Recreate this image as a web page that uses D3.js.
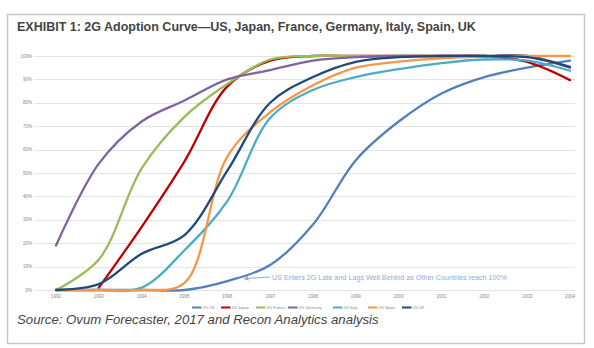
<!DOCTYPE html>
<html><head><meta charset="utf-8">
<script src="https://cdn.jsdelivr.net/npm/d3@7"></script>
<style>body{margin:0;background:#fff}svg{display:block}</style>
</head><body>
<svg id="c" width="594" height="348"></svg>
<script>
const years = [1992,1993,1994,1995,1996,1997,1998,1999,2000,2001,2002,2003,2004];
const seriesNames = ["2G US","2G Japan","2G France","2G Germany","2G Italy","2G Spain","2G UK"];
const us      = [0,0,0,0,3.8,10.7,28,55.5,72,84,91,95,98];
const japan   = [null,1,27,55,87,98,100,100,100,100,100,97.5,89.7];
const france  = [0,13,52,74,88,98.5,100,100,100,100,100,100,95];
const germany = [19,54,72,81,90,94,98,99.5,100,100,100,100,95];
const italy   = [0,0,1,17,38,73.5,85.5,91,94.4,97,98.5,98,93.7];
const spain   = [0,0,0,3,57,76,87.5,95,97.6,99,99.7,100,100];
const uk      = [0,2.5,15.5,23.5,51,80,91,97.5,99.5,100,100,99.5,95.4];
const yTicks = [0,10,20,30,40,50,60,70,80,90,100];
const colors = ["#4f81bd","#c00000","#9bbb59","#8064a2","#4bacc6","#f79646","#1f497d"];
const title = "EXHIBIT 1: 2G Adoption Curve\u2014US, Japan, France, Germany, Italy, Spain, UK";
const source = "Source: Ovum Forecaster, 2017 and Recon Analytics analysis";
const note = "US Enters 2G Late and Lags Well Behind as Other Countries reach 100%";

const allSeries = [us,japan,france,germany,italy,spain,uk];
const svg = d3.select("#c");

svg.append("rect").attr("x",7.5).attr("y",14.5).attr("width",577).attr("height",329)
  .attr("fill","#fff").attr("stroke","#c8c8c8").attr("stroke-width",1.5);

svg.append("text").attr("x",17).attr("y",31).text(title)
  .attr("font-family","Liberation Sans, Arial, sans-serif").attr("font-weight","bold")
  .attr("font-size",12.5).attr("fill","#444");

const x = d3.scaleLinear().domain([1992,2004]).range([56,570]);
const y = d3.scaleLinear().domain([0,100]).range([290,56]);

const g = svg.append("g");
g.selectAll("line.grid").data(yTicks).join("line")
  .attr("x1",34).attr("x2",575)
  .attr("y1",d=>Math.round(y(d))+0.5).attr("y2",d=>Math.round(y(d))+0.5)
  .attr("stroke","#e4e4e4").attr("stroke-width",1);

g.selectAll("text.yl").data(yTicks).join("text")
  .attr("x",32).attr("y",d=>y(d)+1.5).attr("text-anchor","end")
  .attr("font-family","Liberation Sans, Arial, sans-serif").attr("font-size",4.5)
  .attr("fill","#888").text(d=>d+"%");

g.selectAll("text.xl").data(years).join("text")
  .attr("x",d=>x(d)).attr("y",298).attr("text-anchor","middle")
  .attr("font-family","Liberation Sans, Arial, sans-serif").attr("font-size",4.5)
  .attr("fill","#888").text(d=>d);

const line = d3.line().defined(d=>d[1]!=null)
  .x(d=>x(d[0])).y(d=>y(d[1])).curve(d3.curveCatmullRom.alpha(0.5));

allSeries.forEach((s,i)=>{
  g.append("path").datum(years.map((yr,j)=>[yr,s[j]]))
    .attr("d",line).attr("fill","none").attr("stroke",colors[i])
    .attr("stroke-width",2.3).attr("stroke-linejoin","round").attr("stroke-linecap","round");
});

// annotation
const noteColor = "#8faadc";
svg.append("defs").append("marker").attr("id","ah").attr("viewBox","0 0 10 10")
  .attr("refX",5).attr("refY",5).attr("markerWidth",5).attr("markerHeight",5)
  .attr("orient","auto-start-reverse")
  .append("path").attr("d","M0,0 L10,5 L0,10 z").attr("fill",noteColor);
svg.append("line").attr("x1",270).attr("y1",277).attr("x2",246).attr("y2",278.5)
  .attr("stroke",noteColor).attr("stroke-width",1).attr("marker-end","url(#ah)");
svg.append("text").attr("x",272).attr("y",279.5).text(note)
  .attr("font-family","Liberation Sans, Arial, sans-serif").attr("font-size",6.6)
  .attr("textLength",235).attr("lengthAdjust","spacingAndGlyphs")
  .attr("fill",noteColor);

// legend
const legendX = [192,221,256,288,333,368,402];
const lg = svg.append("g");
seriesNames.forEach((n,i)=>{
  lg.append("line").attr("x1",legendX[i]).attr("x2",legendX[i]+9.5)
    .attr("y1",307.5).attr("y2",307.5).attr("stroke",colors[i]).attr("stroke-width",2);
  lg.append("text").attr("x",legendX[i]+10.5).attr("y",309)
    .attr("font-family","Liberation Sans, Arial, sans-serif").attr("font-size",4)
    .attr("fill","#888").text(n);
});

svg.append("text").attr("x",17).attr("y",324).text(source)
  .attr("font-family","Liberation Sans, Arial, sans-serif").attr("font-style","italic")
  .attr("font-size",13.2).attr("fill","#444");
</script>
</body></html>
